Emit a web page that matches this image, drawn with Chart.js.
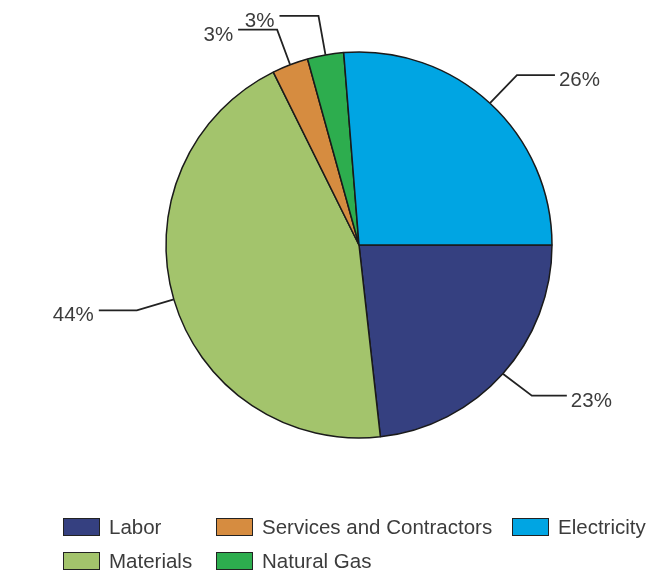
<!DOCTYPE html>
<html lang="en">
<head>
<meta charset="UTF-8">
<title>Cost breakdown</title>
<script src="https://cdn.jsdelivr.net/npm/chart.js"></script>
<style>
  html, body { margin: 0; padding: 0; background: #fff; }
  #wrap { position: relative; width: 662px; height: 571px; }
  #pie { position: absolute; left: 0; top: 0; }
  #legend {
    position: absolute; left: 63px; top: 517px;
    display: grid; grid-template-columns: 153px 296px auto;
    row-gap: 15px;
    font-family: "Liberation Sans", Arial, sans-serif; font-size: 20.5px; color: #3c3c3c;
  }
  .item { display: flex; align-items: center; height: 19px; white-space: nowrap; }
  .box { width: 35px; height: 16px; border: 1.5px solid #222; margin-right: 9px; }
</style>
</head>
<body>
<div id="wrap">
  <canvas id="pie" width="662" height="571"></canvas>
  <div id="legend"></div>
</div>

<script>
// categories and shares (%)
var categories = ['Labor', 'Materials', 'Services and Contractors', 'Natural Gas', 'Electricity'];
var shares = [23, 44, 3, 3, 26];
var colors = ['#354080', '#a3c46c', '#d68c40', '#2dad4e', '#00a5e3'];

// legend reads row by row across three columns
var legendOrder = [0, 2, 4, 1, 3];

// leader line for each slice: elbow offset from the rim, then a horizontal run
var leaders = [
  { dx: 29, dy: 22, run: 35 },
  { dx: -37, dy: 11, run: -38 },
  { dx: -13, dy: -35, run: -39 },
  { dx: -7, dy: -39, run: -39 },
  { dx: 27, dy: -28, run: 38 }
];

var leaderLabels = {
  id: 'leaderLabels',
  afterDatasetsDraw: function (chart) {
    var ctx = chart.ctx;
    var meta = chart.getDatasetMeta(0);
    ctx.save();
    ctx.strokeStyle = '#222';
    ctx.lineWidth = 1.8;
    ctx.fillStyle = '#3c3c3c';
    ctx.font = '20.5px "Liberation Sans", Arial, sans-serif';
    ctx.textBaseline = 'alphabetic';
    meta.data.forEach(function (arc, i) {
      var p = arc.getProps(['x', 'y', 'startAngle', 'endAngle', 'outerRadius'], true);
      var mid = (p.startAngle + p.endAngle) / 2;
      var x0 = p.x + Math.cos(mid) * p.outerRadius;
      var y0 = p.y + Math.sin(mid) * p.outerRadius;
      var L = leaders[i];
      var x1 = x0 + L.dx, y1 = y0 + L.dy;
      var x2 = x1 + L.run;
      ctx.beginPath();
      ctx.moveTo(x0, y0);
      ctx.lineTo(x1, y1);
      ctx.lineTo(x2, y1);
      ctx.stroke();
      var txt = shares[i] + '%';
      if (L.run > 0) {
        ctx.textAlign = 'left';
        ctx.fillText(txt, x2 + 4, y1 + 11);
      } else {
        ctx.textAlign = 'right';
        ctx.fillText(txt, x2 - 5, y1 + 11);
      }
    });
    ctx.restore();
  }
};

new Chart(document.getElementById('pie'), {
  type: 'pie',
  data: {
    labels: categories,
    datasets: [{
      data: shares,
      backgroundColor: colors,
      borderColor: '#1a1a1a',
      borderWidth: 1.5
    }]
  },
  options: {
    responsive: false,
    animation: false,
    rotation: 90,
    radius: 193,
    layout: { padding: { left: 166, top: 52, right: 110, bottom: 133 } },
    plugins: { legend: { display: false }, tooltip: { enabled: false } }
  },
  plugins: [leaderLabels]
});

var legend = document.getElementById('legend');
legendOrder.forEach(function (i) {
  var item = document.createElement('div');
  item.className = 'item';
  var box = document.createElement('span');
  box.className = 'box';
  box.style.background = colors[i];
  item.appendChild(box);
  item.appendChild(document.createTextNode(categories[i]));
  legend.appendChild(item);
});
</script>
</body>
</html>
